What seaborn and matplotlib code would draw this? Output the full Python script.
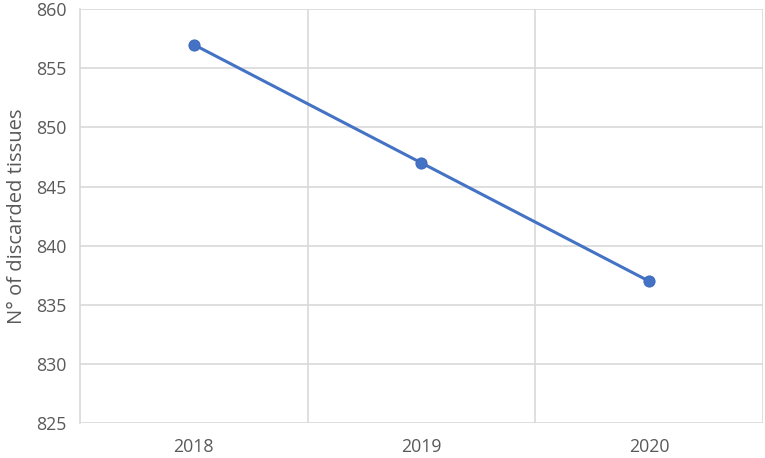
import matplotlib
matplotlib.use("Agg")
import matplotlib.pyplot as plt
import seaborn as sns
import pandas as pd
import numpy as np

years = ["2018", "2019", "2020"]
discarded = [857, 847, 837]
y_ticks = [825, 830, 835, 840, 845, 850, 855, 860]

sns.set_theme(style="white")
plt.rcParams['font.family'] = ['Open Sans', 'DejaVu Sans']

df = pd.DataFrame({"year": years, "discarded": discarded})

fig = plt.figure(figsize=(7.65, 4.58), dpi=100)
ax = fig.add_axes([0.1046, 0.0764, 0.8924, 0.9036])

sns.lineplot(data=df, x="year", y="discarded", ax=ax, color="#4472C4",
             linewidth=2.2, marker="o", markersize=8, markeredgecolor="#3F6BBF",
             sort=False)

grid_c = "#D9D9D9"
ax.set_xlim(-0.5, 2.5)
ax.set_ylim(825, 860)
ax.set_yticks(y_ticks)
ax.set_xticks([0, 1, 2])
ax.set_xticklabels(years)
ax.set_xticks([0.5, 1.5, 2.5], minor=True)
ax.grid(False)
ax.yaxis.grid(True, which="major", color=grid_c, linewidth=1.2)
ax.xaxis.grid(True, which="minor", color=grid_c, linewidth=1.2)
ax.set_axisbelow(True)

for s in ["top", "right", "bottom"]:
    ax.spines[s].set_visible(False)
ax.spines["left"].set_color(grid_c)
ax.spines["left"].set_linewidth(1.2)

ax.tick_params(axis="both", which="both", length=0, labelsize=12.8, colors="#595959")
ax.tick_params(axis="x", pad=11)
ax.tick_params(axis="y", pad=10)
ax.set_xlabel("")
ax.set_ylabel("N° of discarded tissues", fontsize=14.5, color="#595959", labelpad=6)

fig.savefig("out.png", dpi=100)
